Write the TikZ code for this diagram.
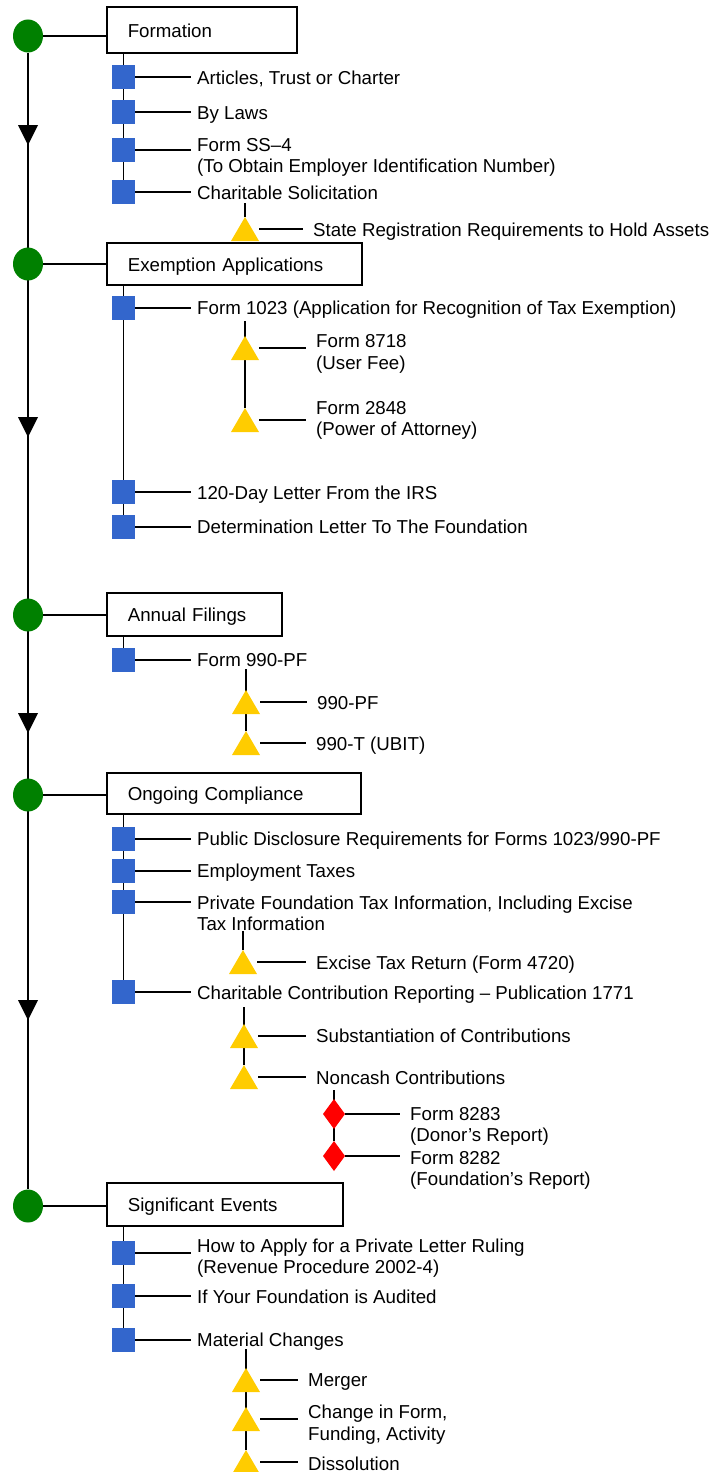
\documentclass[tikz,border=0pt]{standalone}
\usepackage{fontspec}
\setmainfont{Liberation Sans}
\usetikzlibrary{backgrounds,shapes.geometric}
\definecolor{cgreen}{HTML}{008000}
\definecolor{cblue}{HTML}{3366CC}
\definecolor{cyellow}{HTML}{FFCC00}
\definecolor{cred}{HTML}{FF0000}
\begin{document}
\begin{tikzpicture}[x=1pt,y=-1pt,
  every node/.style={font=\fontsize{18.7}{21.5}\selectfont},
  conn/.style={line width=1.6pt},
  stage/.style={ellipse, fill=cgreen, minimum width=30pt, minimum height=33pt, inner sep=0pt},
  box/.style={draw, fill=white, line width=1.6pt, anchor=west, minimum height=43pt, inner xsep=21pt, align=left, text height=18.5pt, text depth=4pt},
  sq/.style={fill=cblue, minimum width=23pt, minimum height=24pt, inner sep=0pt},
  tri/.style={minimum width=28pt, minimum height=24pt, inner sep=0pt,
    path picture={\fill[cyellow] (path picture bounding box.south west) -- (path picture bounding box.south east) -- (path picture bounding box.north) -- cycle;}},
  dia/.style={minimum width=22pt, minimum height=30pt, inner sep=0pt,
    path picture={\fill[cred] (path picture bounding box.north) -- (path picture bounding box.east) -- (path picture bounding box.south) -- (path picture bounding box.west) -- cycle;}},
  flowmark/.style={minimum width=20pt, minimum height=20pt, inner sep=0pt,
    path picture={\fill[black] (path picture bounding box.north west) -- (path picture bounding box.north east) -- (path picture bounding box.south) -- cycle;}},
  lbl/.style={anchor=west, inner xsep=6pt, inner ysep=0pt, text height=18.5pt, text depth=4pt},
  mlbl/.style={anchor=west, inner xsep=6pt, inner ysep=0pt, align=left},
  slbl/.style={anchor=west, inner xsep=10pt, inner ysep=0pt, text height=18.5pt, text depth=4pt},
  smlbl/.style={anchor=west, inner xsep=10pt, inner ysep=0pt, align=left}
]
\useasboundingbox (0,0) rectangle (720,1472);

% stages
\node[stage] (c1) at (28,36) {};
\node[stage] (c2) at (28,264) {};
\node[stage] (c3) at (28,615) {};
\node[stage] (c4) at (28,795) {};
\node[stage] (c5) at (28,1206) {};
\node[flowmark] (m1) at (28,135) {};
\node[flowmark] (m2) at (28,427) {};
\node[flowmark] (m3) at (28,723) {};
\node[flowmark] (m4) at (28,1010) {};

\node[box, text width=148pt, minimum height=46pt] (b1) at (106,30) {Formation};
\node[box, text width=213pt, minimum height=42pt] (b2) at (106,264) {Exemption Applications};
\node[box, text width=133pt] (b3) at (106,614.5) {Annual Filings};
\node[box, text width=212pt, minimum height=41pt] (b4) at (106,793.5) {Ongoing Compliance};
\node[box, text width=194pt] (b5) at (106,1204.5) {Significant Events};

% Formation
\node[sq] (f1) at (123.5,77) {};
\node[lbl] (lf1) at (191,77) {Articles, Trust or Charter};
\node[sq] (f2) at (123.5,112) {};
\node[lbl] (lf2) at (191,112) {By Laws};
\node[sq] (f3) at (123.5,150) {};
\node[mlbl] (lf3) at (191,157.5) {Form SS–4\\(To Obtain Employer Identification Number)};
\node[sq] (f4) at (123.5,192) {};
\node[lbl] (lf4) at (191,192) {Charitable Solicitation};
\node[tri] (f4a) at (245,229) {};
\node[slbl] (lf4a) at (303,229) {State Registration Requirements to Hold Assets};

% Exemption
\node[sq] (e1) at (123.5,308) {};
\node[lbl] (le1) at (191,307) {Form 1023 (Application for Recognition of Tax Exemption)};
\node[tri] (e1a) at (245,348) {};
\node[smlbl] (le1a) at (306,354) {Form 8718\\(User Fee)};
\node[tri] (e1b) at (245,420) {};
\node[smlbl] (le1b) at (306,420.5) {Form 2848\\(Power of Attorney)};
\node[sq] (e2) at (123.5,492) {};
\node[lbl] (le2) at (191,492) {120-Day Letter From the IRS};
\node[sq] (e3) at (123.5,527) {};
\node[lbl] (le3) at (191,526) {Determination Letter To The Foundation};

% Annual
\node[sq] (a1) at (123.5,660) {};
\node[lbl] (la1) at (191,659) {Form 990-PF};
\node[tri] (a1a) at (246,702) {};
\node[slbl] (la1a) at (307,702) {990-PF};
\node[tri] (a1b) at (246,743) {};
\node[slbl] (la1b) at (306,743) {990-T (UBIT)};

% Ongoing
\node[sq] (o1) at (123.5,839) {};
\node[lbl] (lo1) at (191,838) {Public Disclosure Requirements for Forms 1023/990-PF};
\node[sq] (o2) at (123.5,871) {};
\node[lbl] (lo2) at (191,870) {Employment Taxes};
\node[sq] (o3) at (123.5,902) {};
\node[mlbl] (lo3) at (191,913.5) {Private Foundation Tax Information, Including Excise\\Tax Information};
\node[tri] (o3a) at (243,962) {};
\node[slbl] (lo3a) at (306,962) {Excise Tax Return (Form 4720)};
\node[sq] (o4) at (123.5,992) {};
\node[lbl] (lo4) at (191,992) {Charitable Contribution Reporting – Publication 1771};
\node[tri] (o4a) at (244,1036) {};
\node[slbl] (lo4a) at (306,1035) {Substantiation of Contributions};
\node[tri] (o4b) at (244,1077) {};
\node[slbl] (lo4b) at (306,1077) {Noncash Contributions};
\node[dia] (o4b1) at (334,1114) {};
\node[smlbl] (lo4b1) at (400,1126.5) {Form 8283\\(Donor’s Report)};
\node[dia] (o4b2) at (334,1156) {};
\node[smlbl] (lo4b2) at (400,1170.5) {Form 8282\\(Foundation’s Report)};

% Significant
\node[sq] (s1) at (123.5,1253) {};
\node[mlbl] (ls1) at (191,1258) {How to Apply for a Private Letter Ruling\\(Revenue Procedure 2002-4)};
\node[sq] (s2) at (123.5,1296) {};
\node[lbl] (ls2) at (191,1296) {If Your Foundation is Audited};
\node[sq] (s3) at (123.5,1340) {};
\node[lbl] (ls3) at (191,1339) {Material Changes};
\node[tri] (s3a) at (246,1380) {};
\node[slbl] (ls3a) at (298,1379) {Merger};
\node[tri] (s3b) at (246,1419) {};
\node[smlbl] (ls3b) at (298,1424.5) {Change in Form,\\Funding, Activity};
\node[tri] (s3c) at (246,1462) {};
\node[slbl] (ls3c) at (298,1463) {Dissolution};

\begin{scope}[on background layer]
  \draw[conn] (c1) -- (c5);
  \foreach \c/\b in {c1/b1,c2/b2,c3/b3,c4/b4,c5/b5}
    \draw[conn] (\c) -- (\c -| \b.west);
  % trunks
  \draw[conn] (f4 |- b1.south) -- (f4);
  \draw[conn] (e3 |- b2.south) -- (e3);
  \draw[conn] (a1 |- b3.south) -- (a1);
  \draw[conn] (o4 |- b4.south) -- (o4);
  \draw[conn] (s3 |- b5.south) -- (s3);
  % branches
  \foreach \s/\l in {f1/lf1,f2/lf2,f3/lf3,f4/lf4,f4a/lf4a,
      e1/le1,e1a/le1a,e1b/le1b,e2/le2,e3/le3,
      a1/la1,a1a/la1a,a1b/la1b,
      o1/lo1,o2/lo2,o3/lo3,o3a/lo3a,o4/lo4,o4a/lo4a,o4b/lo4b,o4b1/lo4b1,o4b2/lo4b2,
      s1/ls1,s2/ls2,s3/ls3,s3a/ls3a,s3b/ls3b,s3c/ls3c}
    \draw[conn] (\s) -- (\s -| \l.west);
  % sub trunks
  \draw[conn] (f4a |- lf4.south) -- (f4a);
  \draw[conn] ([yshift=-3pt]e1a |- le1.south) -- (e1b);
  \draw[conn] ([yshift=1pt]a1a |- la1.south) -- (a1b);
  \draw[conn] (o3a |- lo3.south) -- (o3a);
  \draw[conn] ([yshift=-4pt]o4a |- lo4.south) -- (o4b);
  \draw[conn] ([yshift=-2pt]o4b1 |- lo4b.south) -- (o4b2);
  \draw[conn] ([yshift=1pt]s3a |- ls3.south) -- (s3c);
\end{scope}
\end{tikzpicture}
\end{document}
